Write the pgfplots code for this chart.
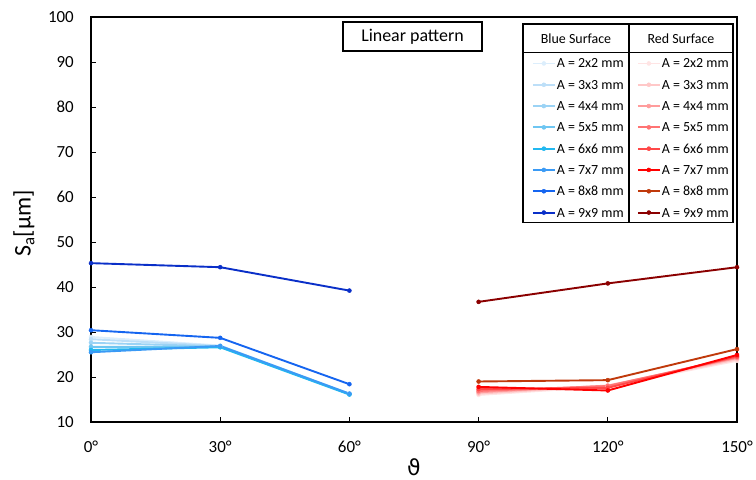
\documentclass[border=0pt]{standalone}
\usepackage{fontspec}
\setmainfont{Carlito}
\newfontfamily\dejavu{DejaVu Sans}
\usepackage{pgfplots}
\pgfplotsset{compat=1.18}

\definecolor{bA}{HTML}{DCEEFC}
\definecolor{bB}{HTML}{BDDFF8}
\definecolor{bC}{HTML}{9BD3F5}
\definecolor{bD}{HTML}{6EC6F2}
\definecolor{bE}{HTML}{22B8F0}
\definecolor{bF}{HTML}{3A9AF5}
\definecolor{bG}{HTML}{1565F0}
\definecolor{bH}{HTML}{0A2FC8}
\definecolor{rA}{HTML}{FFE4E4}
\definecolor{rB}{HTML}{FFC8C8}
\definecolor{rC}{HTML}{FF9C9C}
\definecolor{rD}{HTML}{FF7373}
\definecolor{rE}{HTML}{FF4848}
\definecolor{rF}{HTML}{FF0000}
\definecolor{rG}{HTML}{C0390B}
\definecolor{rH}{HTML}{8B0000}

\pgfplotsset{
  base/.style={
    width=646bp, height=405bp, scale only axis,
    at={(0,0)}, anchor=south west,
    xmin=0, xmax=150, ymin=10, ymax=100,
    xtick={0,30,60,90,120,150}, ytick={10,20,30,40,50,60,70,80,90,100},
    clip=false,
    legend cell align=left,
    legend style={draw=none, fill=none, inner sep=0pt, row sep=0pt,
      font=\fontsize{14}{16}\selectfont,
      nodes={inner xsep=1bp, inner ysep=0pt, text height=15.15bp, text depth=6.15bp}},
    legend image code/.code={
      \draw[mark repeat=2, mark phase=2, #1] plot coordinates {(0bp,0bp) (11bp,0bp) (22bp,0bp)};
    },
  },
  ser/.style={color=#1, line width=1.9bp, mark=*, mark size=2bp, mark options={fill=#1, draw=#1, line width=0.5bp}},
}

\begin{document}
\begin{tikzpicture}
\begin{axis}[base,
  axis line style={line width=1.2bp},
  xtick pos=bottom, ytick pos=left, tick align=inside,
  major tick length=5bp, tick style={line width=1bp, black},
  xticklabels={0°,30°,60°,90°,120°,150°},
  ticklabel style={font=\fontsize{17}{20}\selectfont},
  /pgf/number format/assume math mode=true,
  yticklabel style={inner xsep=0pt, xshift=-17bp},
  xticklabel style={inner ysep=0pt, yshift=-19bp},
  ylabel={S\textsubscript{a}[µm]},
  ylabel style={at={(axis description cs:-0.1037,0.49)}, anchor=center, font=\fontsize{24}{28}\selectfont},
  xlabel={{\dejavu ϑ}},
  xlabel style={at={(axis description cs:0.5,-0.111)}, anchor=center, font=\fontsize{22}{26}\selectfont},
  legend style={at={(axis description cs:0.6822,0.9121)}, anchor=north west},
]
\addplot[ser=bA] coordinates {(0,28.9) (30,27.0) (60,16.3)};
\addlegendentry{A = 2x2 mm}
\addplot[ser=bB] coordinates {(0,28.4) (30,26.9) (60,16.3)};
\addlegendentry{A = 3x3 mm}
\addplot[ser=bC] coordinates {(0,27.6) (30,26.8) (60,16.2)};
\addlegendentry{A = 4x4 mm}
\addplot[ser=bD] coordinates {(0,26.7) (30,26.7) (60,16.2)};
\addlegendentry{A = 5x5 mm}
\addplot[ser=bE] coordinates {(0,26.0) (30,26.6) (60,16.1)};
\addlegendentry{A = 6x6 mm}
\addplot[ser=bF] coordinates {(0,25.5) (30,26.9) (60,16.3)};
\addlegendentry{A = 7x7 mm}
\addplot[ser=bG] coordinates {(0,30.4) (30,28.7) (60,18.4)};
\addlegendentry{A = 8x8 mm}
\addplot[ser=bH] coordinates {(0,45.3) (30,44.4) (60,39.2)};
\addlegendentry{A = 9x9 mm}
\node[draw, line width=1.2bp, minimum width=139bp, minimum height=29bp, inner sep=0pt,
  font=\fontsize{18}{21}\selectfont] at (axis description cs:0.4977,0.9519) {Linear pattern};
\end{axis}

\begin{axis}[base, hide axis,
  legend style={at={(axis description cs:0.8447,0.9121)}, anchor=north west},
]
\addplot[ser=rA] coordinates {(90,16.0) (120,17.9) (150,23.6)};
\addlegendentry{A = 2x2 mm}
\addplot[ser=rB] coordinates {(90,16.3) (120,18.0) (150,23.9)};
\addlegendentry{A = 3x3 mm}
\addplot[ser=rC] coordinates {(90,16.6) (120,18.1) (150,24.2)};
\addlegendentry{A = 4x4 mm}
\addplot[ser=rD] coordinates {(90,16.9) (120,18.0) (150,24.4)};
\addlegendentry{A = 5x5 mm}
\addplot[ser=rE] coordinates {(90,17.3) (120,17.6) (150,24.6)};
\addlegendentry{A = 6x6 mm}
\addplot[ser=rF] coordinates {(90,17.8) (120,17.0) (150,24.9)};
\addlegendentry{A = 7x7 mm}
\addplot[ser=rG] coordinates {(90,19.0) (120,19.3) (150,26.2)};
\addlegendentry{A = 8x8 mm}
\addplot[ser=rH] coordinates {(90,36.7) (120,40.8) (150,44.4)};
\addlegendentry{A = 9x9 mm}
\draw[line width=1.2bp] (axis description cs:0.6687,0.9827) rectangle (axis description cs:0.9938,0.4921);
\draw[line width=1.2bp] (axis description cs:0.6687,0.9119) -- (axis description cs:0.9938,0.9119);
\draw[line width=1.2bp] (axis description cs:0.8328,0.9827) -- (axis description cs:0.8328,0.4921);
\node[font=\fontsize{14}{16}\selectfont] at (axis description cs:0.7508,0.9474) {Blue Surface};
\node[font=\fontsize{14}{16}\selectfont] at (axis description cs:0.9133,0.9474) {Red Surface};
\end{axis}
\pgfresetboundingbox
\useasboundingbox (-91bp,-58bp) rectangle (665bp,422bp);
\end{tikzpicture}
\end{document}
